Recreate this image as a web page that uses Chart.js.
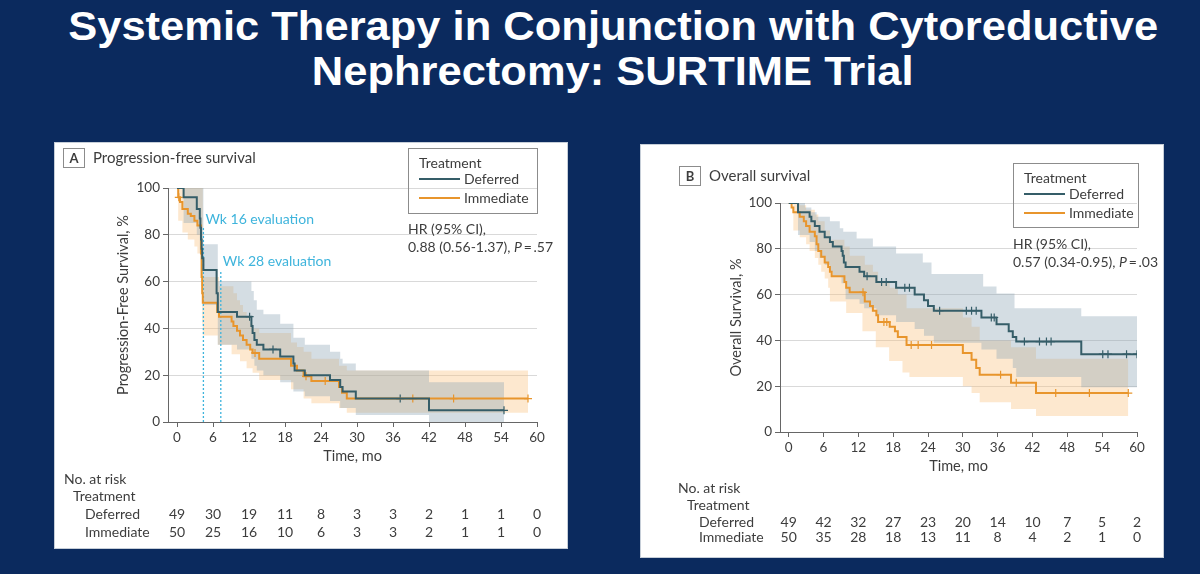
<!DOCTYPE html>
<html>
<head>
<meta charset="utf-8">
<script src="https://cdn.jsdelivr.net/npm/chart.js@4.4.1/dist/chart.umd.min.js"></script>
<style>
  html, body { margin: 0; padding: 0; }
  body { width: 1200px; height: 574px; background: #0b2a5e; position: relative; overflow: hidden; }
  #title { position: absolute; left: 0; top: 4px; width: 1226px; text-align: center; color: #fff;
           font-family: "Liberation Sans", Arial, sans-serif; font-weight: bold; font-size: 40px; line-height: 45px; }
  #title span { display: inline-block; white-space: nowrap; transform-origin: 50% 50%; }
  .panel { position: absolute; background: #fff; outline: 1px solid #c6ced8; }
  #pa { left: 55px; top: 143px; width: 512px; height: 405px; }
  #pb { left: 641px; top: 145px; width: 522px; height: 412px; }
  canvas { display: block; }
</style>
</head>
<body>
<div id="title"><span id="t1">Systemic Therapy in Conjunction with Cytoreductive</span><br><span id="t2">Nephrectomy: SURTIME Trial</span></div>
<div class="panel" id="pa"><canvas id="chartA"></canvas></div>
<div class="panel" id="pb"><canvas id="chartB"></canvas></div>
<script>
// shared axes
const riskTicks = [0, 6, 12, 18, 24, 30, 36, 42, 48, 54, 60];
const yTicks = [0, 20, 40, 60, 80, 100];

// A: progression-free survival (Kaplan-Meier steps, %)
const pfsDefT = [0, 1.1, 3.3, 3.8, 3.9, 4.0, 4.1, 4.2, 4.4, 6.6, 6.8, 10, 12.4, 12.6, 12.9, 13.3, 14.4, 17.2, 19.4, 19.6, 21.3, 25.5, 27.2, 27.6, 29.8, 42, 54.5];
const pfsDefS = [100, 96, 91, 87, 83, 78, 74, 70, 65, 55, 47, 45, 41, 38, 35, 33, 31, 28, 25, 22, 20, 18, 15, 13, 10, 5, 5];
const pfsImmT = [0, 0.2, 0.5, 0.9, 1.8, 2.3, 2.9, 3.4, 4.0, 4.1, 4.2, 4.3, 6.7, 7.0, 9.1, 9.4, 10, 10.5, 11, 11.6, 12.2, 12.6, 13.7, 19, 20, 21.1, 22.4, 27, 27.5, 28.3, 58.5];
const pfsImmS = [100, 96, 94, 91, 89, 88, 86, 84, 72, 62, 55, 51, 47, 45, 43, 41, 39, 37, 35, 33, 31, 29.5, 27, 24, 22, 19.5, 17.5, 15, 12.5, 10, 10];
const pfsDefCensT = [12.1, 16, 37.2, 54.5];
const pfsDefCensS = [45, 31, 10, 5];
const pfsImmCensT = [0.3, 13, 21.5, 24.7, 39.3, 46.1, 58.5];
const pfsImmCensS = [96, 29.5, 19.5, 17.5, 10, 10, 10];
// 95% CI bands
const pfsDefUpT = [0, 4.4, 6.8, 12.4, 12.8, 13.3, 14.4, 17.2, 19.4, 21.3, 25.5, 27.2, 27.6, 29.8, 42, 54.5];
const pfsDefUpS = [100, 76, 60, 56, 52, 48, 46, 42, 36, 33, 30, 27, 25, 22, 17, 17];
const pfsDefLoT = [0, 1.1, 3.3, 3.8, 4.1, 4.4, 6.8, 10, 12.4, 12.9, 13.3, 14.4, 17.2, 19.4, 21.3, 25.5, 27.2, 29.8, 42, 54.5];
const pfsDefLoS = [100, 85, 80, 72, 60, 50, 33, 31, 27, 24, 22, 20, 17, 13, 11, 9, 6, 3, 0, 0];
const pfsImmUpT = [0, 4.3, 7.0, 9.4, 10, 10.5, 11, 11.6, 12.2, 12.6, 13.7, 19, 20, 21.1, 22.4, 27, 28.3, 58.5];
const pfsImmUpS = [100, 62, 58, 55, 52, 50, 47, 45, 42, 40, 38, 34, 32, 30, 27, 24, 22, 22];
const pfsImmLoT = [0, 0.2, 0.9, 1.8, 2.9, 3.4, 4.0, 4.2, 4.3, 6.8, 9.1, 10.5, 11.6, 12.6, 13.7, 19, 21.1, 22.4, 27, 28.3, 58.5];
const pfsImmLoS = [100, 86, 81, 78, 75, 72, 58, 42, 37, 33, 29, 26, 23, 21, 18, 14, 10, 8, 6, 4, 4];
const pfsRiskDef = [49, 30, 19, 11, 8, 3, 3, 2, 1, 1, 0];
const pfsRiskImm = [50, 25, 16, 10, 6, 3, 3, 2, 1, 1, 0];
// week 16 / week 28 evaluation markers
const evalT = [4.4, 7.3];
const evalTop = [83, 65];
const evalLabels = ['Wk 16 evaluation', 'Wk 28 evaluation'];

// B: overall survival
const osDefT = [0, 1.6, 3.6, 3.9, 4.5, 5.3, 6.2, 7.1, 7.6, 9.1, 9.3, 9.5, 9.8, 12.2, 13, 15.1, 18.5, 21.7, 23.3, 24, 25, 33.2, 35.8, 37.9, 38.6, 39.2, 50.4, 60];
const osDefS = [100, 96, 94, 92, 90, 87.5, 85, 83, 81, 79, 77, 74, 72, 70, 68, 65.5, 63, 60, 57.5, 55, 53, 50, 47, 44, 41.5, 39.5, 34, 34];
const osImmT = [0, 0.5, 0.8, 1.9, 2.6, 3.0, 3.6, 4.5, 4.8, 5.1, 5.6, 6.2, 6.8, 7.1, 7.4, 9.6, 9.9, 10.5, 13.1, 14, 14.5, 15.1, 15.4, 17.4, 18.3, 18.8, 20.3, 30, 31.5, 32.3, 32.9, 38.3, 42.6, 58.5];
const osImmS = [100, 98, 96, 94, 92, 90, 87.5, 85.5, 82, 79, 76.5, 74, 72, 70, 68, 65.5, 63, 61, 57, 55, 53, 51, 48, 46, 44, 41.5, 38, 34.5, 31.5, 28, 25, 21.5, 17, 17];
const osDefCensT = [13.5, 16, 16.8, 20, 20.8, 26, 30.6, 31.5, 32.3, 34.9, 35.4, 40.6, 43.2, 44.4, 45.2, 54.1, 55, 58.2, 60];
const osDefCensS = [68, 65.5, 65.5, 63, 63, 53, 53, 53, 53, 50, 50, 39.5, 39.5, 39.5, 39.5, 34, 34, 34, 34];
const osImmCensT = [12.8, 16.4, 16.9, 21.1, 22.3, 24.6, 36.5, 39.2, 46, 51.8, 58.5];
const osImmCensS = [61, 48, 48, 38, 38, 38, 25, 21.5, 17, 17, 17];
const osDefUpT = [0, 2.8, 3.9, 4.8, 7.1, 8.8, 9.4, 11.7, 14.5, 18.5, 23.1, 24.6, 33.5, 35.8, 38.9, 50.4, 60];
const osDefUpS = [100, 98, 96, 94, 92, 89, 87.5, 84.5, 81, 78, 74, 69, 63.5, 60.5, 54, 50.5, 50.5];
const osDefLoT = [0, 1.6, 3.6, 4.5, 5.3, 6.2, 7.1, 7.6, 9.1, 9.8, 12.2, 13, 15.1, 18.5, 21.7, 23.3, 25, 33.2, 35.8, 38.6, 39.2, 50.4, 60];
const osDefLoS = [100, 86, 83, 79, 76, 73, 70, 68, 65, 58, 56, 54, 51, 48, 45, 42, 39, 36, 32, 28, 24, 19.5, 19.5];
const osImmUpT = [0, 1.9, 3.0, 4.5, 5.1, 6.2, 7.1, 9.6, 10.5, 13.1, 14.5, 15.4, 17.4, 18.8, 20.3, 30, 31.5, 32.9, 38.3, 42.6, 58.5];
const osImmUpS = [100, 99, 97, 95, 92, 88, 84, 81, 77, 73, 70, 66, 63, 60, 54, 50, 46, 40, 37, 32, 32];
const osImmLoT = [0, 0.8, 1.9, 3.0, 3.6, 4.5, 5.1, 5.6, 6.2, 6.8, 7.1, 9.9, 12.7, 15, 17.3, 19.6, 20.8, 30, 31.5, 32.9, 38.3, 42.6, 58.5];
const osImmLoS = [100, 88, 85, 82, 79, 76, 73, 70, 67, 63, 57, 52, 44, 37, 31, 26, 24, 20, 17, 13, 10, 7, 7];
const osRiskDef = [49, 42, 32, 27, 23, 20, 14, 10, 7, 5, 2];
const osRiskImm = [50, 35, 28, 18, 13, 11, 8, 4, 2, 1, 0];

const INK = '#3d3d3d';
const TEAL = '#355d68';
const ORANGE = '#e8952c';
const EVAL = '#3eb4dc';
const FONT = 'Lato, "Noto Sans", sans-serif';

Chart.defaults.font.family = FONT;
Chart.defaults.color = INK;

// squeeze the slide title to the width it has in the slide
const t1 = document.getElementById('t1'), t2 = document.getElementById('t2');
const k = 1090 / t1.getBoundingClientRect().width;
t1.style.transform = t2.style.transform = 'scaleX(' + k + ')';

function pts(t, s) {
  return t.map((v, i) => ({ x: v, y: s[i] }));
}

function stepLine(t, s, color) {
  return { data: pts(t, s), borderColor: color, borderWidth: 2, stepped: true, pointRadius: 0, fill: false };
}

function censors(t, s, color) {
  return { data: pts(t, s), showLine: false, pointStyle: 'cross', pointRadius: 4, pointBorderWidth: 1.2,
           borderColor: color, pointBorderColor: color, fill: false };
}

function band(t, s, bg, fill) {
  return { data: pts(t, s), borderColor: 'transparent', borderWidth: 0, stepped: true, pointRadius: 0,
           backgroundColor: bg, fill: fill };
}

function hrLine(ctx, x, y, parts) {
  // parts: [text, italic?]
  parts.forEach(([txt, it]) => {
    ctx.font = (it ? 'italic ' : '') + '14px ' + FONT;
    ctx.fillText(txt, x, y);
    x += ctx.measureText(txt).width;
  });
}

function decor(p) {
  return {
    id: 'decor',
    afterDraw(chart) {
      const ctx = chart.ctx, xs = chart.scales.x, ys = chart.scales.y;
      ctx.save();
      ctx.textBaseline = 'middle';
      ctx.fillStyle = INK;
      ctx.strokeStyle = '#8c8c8c';
      ctx.lineWidth = 1;

      // panel letter and heading
      ctx.strokeRect(p.tag[0] + 0.5, p.tag[1] + 0.5, 21, 19);
      ctx.font = 'bold 13px ' + FONT;
      ctx.textAlign = 'center';
      ctx.fillText(p.letter, p.tag[0] + 11, p.tag[1] + 10.5);
      ctx.font = '15px ' + FONT;
      ctx.textAlign = 'left';
      ctx.fillText(p.heading, p.tag[0] + 30, p.tag[1] + 10);

      // legend
      const [lx, ly, lw, lh] = p.legend;
      ctx.strokeStyle = '#8c8c8c';
      ctx.strokeRect(lx + 0.5, ly + 0.5, lw, lh);
      ctx.font = '14px ' + FONT;
      ctx.fillText('Treatment', lx + 11, ly + 15);
      [[TEAL, 'Deferred', 31], [ORANGE, 'Immediate', 50]].forEach(([c, name, dy]) => {
        ctx.strokeStyle = c;
        ctx.lineWidth = 2;
        ctx.beginPath();
        ctx.moveTo(lx + 11, ly + dy);
        ctx.lineTo(lx + 52, ly + dy);
        ctx.stroke();
        ctx.fillText(name, lx + 56, ly + dy);
      });

      // hazard ratio
      ctx.font = '14px ' + FONT;
      ctx.fillText('HR (95% CI),', lx, ly + 81);
      hrLine(ctx, lx, ly + 99, [[p.hr + ', ', false], ['P', true], ['\u2009=\u2009' + p.pval, false]]);

      // evaluation time labels
      if (p.evals) {
        ctx.fillStyle = EVAL;
        ctx.font = '14px ' + FONT;
        evalT.forEach((t, i) => {
          ctx.fillText(evalLabels[i], xs.getPixelForValue(t) + 2, ys.getPixelForValue(evalTop[i]) - 8);
        });
        ctx.fillStyle = INK;
      }

      // numbers at risk
      const r = p.risk;
      ctx.font = '14px ' + FONT;
      ctx.fillText('No. at risk', r.x0, r.y[0]);
      ctx.fillText('Treatment', r.x0 + 9, r.y[1]);
      ctx.fillText('Deferred', r.x0 + 21, r.y[2]);
      ctx.fillText('Immediate', r.x0 + 21, r.y[3]);
      ctx.textAlign = 'center';
      riskTicks.forEach((t, i) => {
        const px = xs.getPixelForValue(t);
        ctx.fillText(String(r.def[i]), px, r.y[2]);
        ctx.fillText(String(r.imm[i]), px, r.y[3]);
      });
      ctx.restore();
    }
  };
}

function kmChart(id, d, p) {
  const datasets = [
    stepLine(d.defT, d.defS, TEAL),
    stepLine(d.immT, d.immS, ORANGE),
    censors(d.defCensT, d.defCensS, TEAL),
    censors(d.immCensT, d.immCensS, ORANGE)
  ];
  if (p.evals) {
    evalT.forEach((t, i) => {
      datasets.push({ data: pts([t, t], [0, evalTop[i]]), borderColor: EVAL, borderWidth: 1.3,
                      borderDash: [2, 2], pointRadius: 0, fill: false });
    });
  }
  datasets.push(
    band(d.defUpT, d.defUpS, 'rgba(135,161,178,0.36)', '+1'),
    band(d.defLoT, d.defLoS, 'transparent', false),
    band(d.immUpT, d.immUpS, 'rgba(249,190,122,0.36)', '+1'),
    band(d.immLoT, d.immLoS, 'transparent', false)
  );

  return new Chart(document.getElementById(id), {
    type: 'line',
    data: { datasets: datasets },
    options: {
      responsive: false,
      animation: false,
      layout: { padding: p.pad },
      plugins: { legend: { display: false }, tooltip: { enabled: false } },
      scales: {
        x: {
          type: 'linear', min: -1.5, max: 60,
          afterBuildTicks: s => { s.ticks = riskTicks.map(v => ({ value: v })); },
          afterFit: s => { s.height = 45; },
          grid: { drawOnChartArea: false, tickLength: 5, color: '#666', tickColor: '#666' },
          border: { color: '#666' },
          ticks: { padding: 3, autoSkip: false, maxRotation: 0, font: { size: 13.5 }, color: INK },
          title: { display: true, text: 'Time, mo', font: { size: 14.5 }, color: INK, padding: { top: 0, bottom: 2 } }
        },
        y: {
          min: 0, max: 100,
          afterBuildTicks: s => { s.ticks = yTicks.map(v => ({ value: v })); },
          afterFit: s => { s.width = 60; },
          grid: { color: c => (c.tick && c.tick.value === 0) ? 'transparent' : '#d9d9d9', tickColor: '#666', tickLength: 5 },
          border: { color: '#666' },
          ticks: { padding: 3, font: { size: 13.5 }, color: INK },
          title: { display: true, text: p.yTitle, font: { size: 14.5 }, color: INK, padding: { top: p.yTitlePad, bottom: 0 } }
        }
      }
    },
    plugins: [decor(p)]
  });
}

function sizeCanvas(id, w, h) {
  const c = document.getElementById(id);
  c.width = w; c.height = h;
  c.style.width = w + 'px'; c.style.height = h + 'px';
}

sizeCanvas('chartA', 512, 405);
sizeCanvas('chartB', 522, 412);

kmChart('chartA', {
  defT: pfsDefT, defS: pfsDefS, immT: pfsImmT, immS: pfsImmS,
  defCensT: pfsDefCensT, defCensS: pfsDefCensS, immCensT: pfsImmCensT, immCensS: pfsImmCensS,
  defUpT: pfsDefUpT, defUpS: pfsDefUpS, defLoT: pfsDefLoT, defLoS: pfsDefLoS,
  immUpT: pfsImmUpT, immUpS: pfsImmUpS, immLoT: pfsImmLoT, immLoS: pfsImmLoS
}, {
  letter: 'A', heading: 'Progression-free survival', tag: [8, 5],
  legend: [353, 5, 129, 65], hr: '0.88 (0.56-1.37)', pval: '.57',
  yTitle: 'Progression-Free Survival, %', yTitlePad: 7, evals: true,
  pad: { left: 53, right: 30, top: 45, bottom: 81 },
  risk: { x0: 9, y: [336, 353, 371, 389], def: pfsRiskDef, imm: pfsRiskImm }
});

kmChart('chartB', {
  defT: osDefT, defS: osDefS, immT: osImmT, immS: osImmS,
  defCensT: osDefCensT, defCensS: osDefCensS, immCensT: osImmCensT, immCensS: osImmCensS,
  defUpT: osDefUpT, defUpS: osDefUpS, defLoT: osDefLoT, defLoS: osDefLoS,
  immUpT: osImmUpT, immUpS: osImmUpS, immLoT: osImmLoT, immLoS: osImmLoS
}, {
  letter: 'B', heading: 'Overall survival', tag: [38, 21],
  legend: [372, 18, 125, 64], hr: '0.57 (0.34-0.95)', pval: '.03',
  yTitle: 'Overall Survival, %', yTitlePad: 8, evals: false,
  pad: { left: 79, right: 26, top: 58, bottom: 80 },
  risk: { x0: 37, y: [343, 360, 377, 392], def: osRiskDef, imm: osRiskImm }
});
</script>
</body>
</html>
